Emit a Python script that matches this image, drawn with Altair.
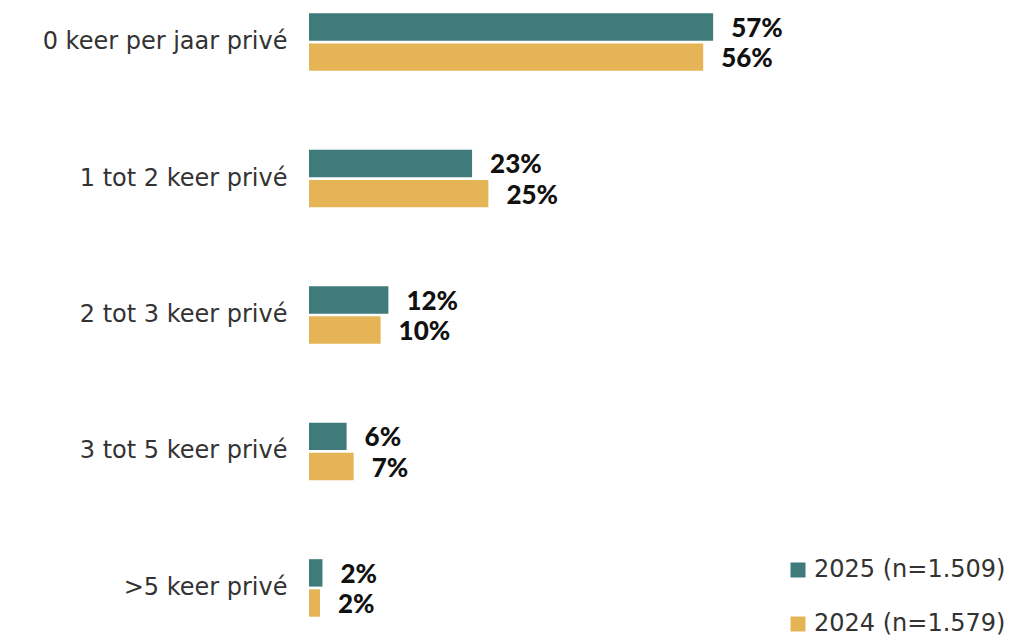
import altair as alt
import pandas as pd

categories = ["0 keer per jaar privé", "1 tot 2 keer privé", "2 tot 3 keer privé",
              "3 tot 5 keer privé", ">5 keer privé"]
series = ["2025 (n=1.509)", "2024 (n=1.579)"]
values_2025 = [57.0, 23.0, 11.2, 5.3, 1.9]
values_2024 = [55.6, 25.3, 10.1, 6.3, 1.55]
labels_2025 = ["57%", "23%", "12%", "6%", "2%"]
labels_2024 = ["56%", "25%", "10%", "7%", "2%"]
colors = ["#3F7B7B", "#E5B457"]

rows = []
for c, v, l in zip(categories, values_2025, labels_2025):
    rows.append({"cat": c, "series": series[0], "value": v, "label": l})
for c, v, l in zip(categories, values_2024, labels_2024):
    rows.append({"cat": c, "series": series[1], "value": v, "label": l})
df = pd.DataFrame(rows)

FONT = "DejaVu Sans"
BOLD = "Lato"

y = alt.Y("cat:N", sort=categories, title=None,
          scale=alt.Scale(paddingInner=0.5786, paddingOuter=0.0975),
          axis=alt.Axis(domain=False, ticks=False, labelPadding=22, labelFontSize=24,
                        labelFont=FONT, labelColor="#333333", labelLimit=400))
yoff = alt.YOffset("series:N", sort=series, scale=alt.Scale(paddingInner=0.09, paddingOuter=0))
x = alt.X("value:Q", title=None, scale=alt.Scale(domain=[0, 690 / 7.09], nice=False),
          axis=None)

bars = alt.Chart(df).mark_bar().encode(
    x=x, y=y, yOffset=yoff,
    color=alt.Color("series:N", sort=series,
                    scale=alt.Scale(domain=series, range=colors),
                    legend=alt.Legend(title=None, orient="none", legendX=477, legendY=558,
                                      symbolType="square", symbolSize=225,
                                      symbolStrokeWidth=0, labelFontSize=24,
                                      labelFont=FONT, labelColor="#333333",
                                      labelOffset=4, rowPadding=30, labelLimit=400)),
)

text = alt.Chart(df).mark_text(align="left", baseline="middle", dx=18, dy=2, fontSize=26,
                               fontWeight=900, font=BOLD, color="#111111").encode(
    x=x, y=y, yOffset=yoff, text="label:N")

chart = (bars + text).properties(
    width=690, height=630,
    padding={"left": 309, "top": 0, "right": 11, "bottom": 9},
    autosize=alt.AutoSizeParams(type="none"),
    background="white",
).configure_view(strokeWidth=0, stroke="transparent")

chart.save("out.html", embed_options={"renderer": "svg", "actions": False})
